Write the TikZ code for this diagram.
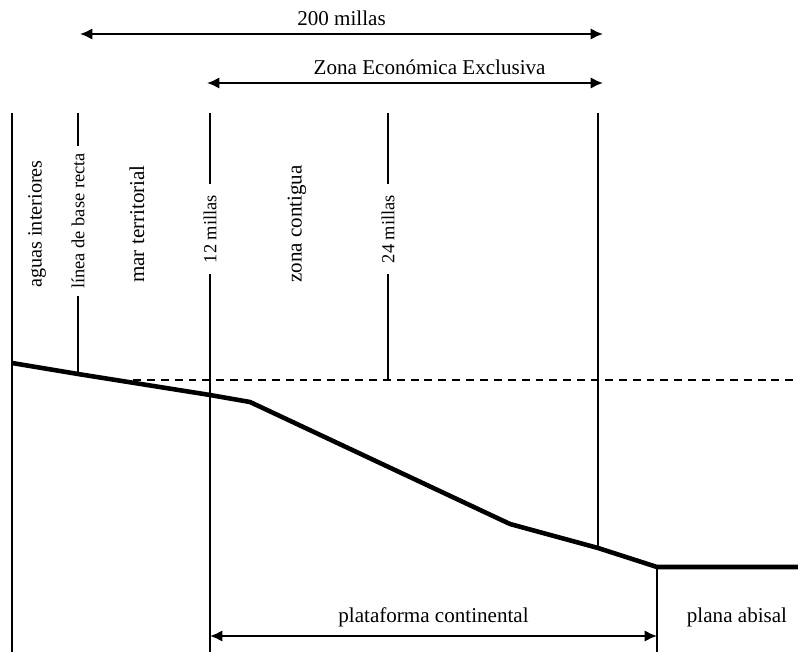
\documentclass[tikz,border=0pt]{standalone}
\usepackage{fontspec}
\setmainfont{Liberation Serif}
\usetikzlibrary{arrows.meta}

\begin{document}
\begin{tikzpicture}[>={Latex[length=7pt,width=6.5pt]}, x=0.02cm, y=-0.02cm,
	linea/.style={line width=0.8pt},
	fondo/.style={line width=2.6pt, line join=round},
	cota/.style={<->, line width=1.2pt},
	rotgrande/.style={rotate=90, font=\fontsize{12}{14}\selectfont},
	rotchico/.style={rotate=90, inner xsep=6pt, font=\fontsize{10.5}{12}\selectfont},
	etiq/.style={font=\fontsize{12}{14}\selectfont}]
	\useasboundingbox (0,0) rectangle (798,652);

	% fondo marino
	\coordinate (f0) at (12,363);
	\coordinate (f1) at (78,374);
	\coordinate (f2) at (210,395);
	\coordinate (f3) at (250,402);
	\coordinate (f4) at (510,524);
	\coordinate (f5) at (598,548);
	\coordinate (f6) at (657,567);
	\coordinate (f7) at (798,567);
	\draw[fondo] (f0) -- (f1) -- (f2) -- (f3) -- (f4) -- (f5) -- (f6) -- (f7);

	% nivel del mar
	\coordinate (n0) at (133,380);
	\coordinate (n1) at (388,380);
	\coordinate (n2) at (798,380);
	\draw[linea, dashed, dash pattern=on 4.5pt off 3.4pt] (n0) -- (n2);

	% lineas verticales
	\coordinate (t0) at (12,113);
	\coordinate (b0) at (12,652);
	\coordinate (t1) at (78,113);
	\coordinate (t2) at (210,113);
	\coordinate (b2) at (210,652);
	\coordinate (t3) at (388,113);
	\coordinate (t4) at (598,113);
	\coordinate (b6) at (657,652);
	\node[rotchico, inner xsep=4pt] (base) at (78,221) {línea de base recta};
	\node[rotchico] (doce) at (210,229) {12 millas};
	\node[rotchico] (veinti) at (388,229) {24 millas};
	\draw[linea] (t0) -- (b0);
	\draw[linea] (t1) -- (base.east);
	\draw[linea] (base.west) -- (f1);
	\draw[linea] (t2) -- (doce.east);
	\draw[linea] (doce.west) -- (b2);
	\draw[linea] (t3) -- (veinti.east);
	\draw[linea] (veinti.west) -- (n1);
	\draw[linea] (t4) -- (f5);
	\draw[linea] (f6) -- (b6);

	% zonas
	\node[rotgrande, font=\fontsize{11.5}{13}\selectfont] (aguas) at (37,224) {aguas interiores};
	\node[rotgrande] (mar) at (137,224) {mar territorial};
	\node[rotgrande] (contigua) at (297,224) {zona contigua};

	% cotas superiores
	\coordinate (a0) at (80,34);
	\coordinate (a1) at (603,34);
	\coordinate (z0) at (207,83);
	\coordinate (z1) at (603,83);
	\draw[cota] (a0) -- node[etiq, above=1pt]{200 millas} (a1);
	\draw[cota] (z0) -- node[etiq, above=1pt, xshift=14pt]{Zona Económica Exclusiva} (z1);

	% cota inferior
	\coordinate (p0) at (210,636);
	\coordinate (p1) at (657,636);
	\draw[cota] (p0) -- node[etiq, above=1pt]{plataforma continental} (p1);
	\node[etiq] (abisal) at (737,617) {plana abisal};
\end{tikzpicture}
\end{document}
